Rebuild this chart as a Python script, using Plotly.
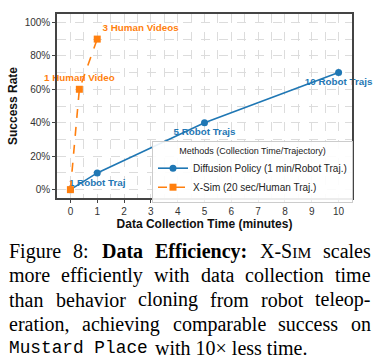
import plotly.graph_objects as go

# ---------------- data ----------------
dp_time = [0, 1, 5, 10]
dp_success = [0, 10, 40, 70]
dp_labels = ["", "1 Robot Traj", "5 Robot Trajs", "10 Robot Trajs"]

xs_time = [0, 1 / 3, 1]
xs_success = [0, 60, 90]
xs_labels = ["", "1 Human Video", "3 Human Videos"]

x_tick_vals = list(range(0, 11))
x_tick_text = [str(v) for v in x_tick_vals]
y_tick_vals = [0, 20, 40, 60, 80, 100]
y_tick_text = ["0%", "20%", "40%", "60%", "80%", "100%"]

dp_name = "Diffusion Policy (1 min/Robot Traj.)"
xs_name = "X-Sim (20 sec/Human Traj.)"
legend_title = "Methods (Collection Time/Trajectory)"
x_title = "Data Collection Time (minutes)"
y_title = "Success Rate"

caption_lines = [
    [("Figure", "r"), ("8:", "r"), ("Data", "b"), ("Efficiency:", "b"), ("X-SIM", "sc"), ("scales", "r")],
    [(w, "r") for w in "more efficiently with data collection time".split()],
    [(w, "r") for w in "than behavior cloning from robot teleop-".split()],
    [(w, "r") for w in "eration, achieving comparable success on".split()],
]
caption_last_mono = "Mustard Place"
caption_last_rest = "with 10× less time."

# ---------------- geometry ----------------
W, H = 380, 359
L, R, T, B = 57, 28, 14, 161
PW, PH = W - L - R, H - T - B


def pxx(x):
    return (x - L) / PW


def pxy(y):
    return (T + PH - y) / PH


BLUE = "#1f77b4"
ORANGE = "#ff7f0e"

fig = go.Figure()
fig.add_trace(go.Scatter(
    x=dp_time, y=dp_success, name=dp_name, mode="lines+markers+text",
    text=dp_labels, textposition="bottom center", cliponaxis=False,
    textfont=dict(family="Liberation Sans", size=9.8, color=BLUE, weight="bold"),
    line=dict(color=BLUE, width=1.6),
    marker=dict(symbol="circle", size=7, color=BLUE),
))
fig.add_trace(go.Scatter(
    x=xs_time, y=xs_success, name=xs_name, mode="lines+markers+text",
    text=xs_labels, textposition=["top center", "top center", "top right"], cliponaxis=False,
    textfont=dict(family="Liberation Sans", size=9.8, color=ORANGE, weight="bold"),
    line=dict(color=ORANGE, width=1.6, dash="dash"),
    marker=dict(symbol="square", size=7, color=ORANGE),
))

grid = dict(gridcolor="#dcdcdc", griddash="dash", gridwidth=0.8)
fig.update_xaxes(
    range=[-0.5, 10.5], tickmode="array", tickvals=x_tick_vals, ticktext=x_tick_text,
    ticks="outside", ticklen=3, tickcolor="#444", showline=True, linecolor="#444",
    linewidth=1.5, mirror=True, zeroline=False, showgrid=True, **grid,
    minor=dict(dtick=0.5, showgrid=True, **grid),
    tickfont=dict(family="Liberation Sans", size=10, color="#333"),
    title=dict(text="<b>" + x_title + "</b>", standoff=1,
               font=dict(family="Liberation Sans", size=12, color="#111")),
)
fig.update_yaxes(
    range=[-5, 105], tickmode="array", tickvals=y_tick_vals, ticktext=y_tick_text,
    ticks="outside", ticklen=3, tickcolor="#444", showline=True, linecolor="#444",
    linewidth=1.5, mirror=True, zeroline=False, showgrid=True, **grid,
    minor=dict(dtick=10, showgrid=True, **grid),
    tickfont=dict(family="Liberation Sans", size=10, color="#333"),
    title=dict(text="<b>" + y_title + "</b>", standoff=4,
               font=dict(family="Liberation Sans", size=12, color="#111")),
)

# ---------------- caption (justified, word by word) ----------------
TIMES = {
    ' ': 250, ',': 250, '-': 333, '.': 250, ':': 278, '×': 564,
    'A': 722, 'B': 667, 'C': 667, 'D': 722, 'E': 611, 'F': 556, 'G': 722, 'H': 722, 'I': 333,
    'J': 389, 'K': 722, 'L': 611, 'M': 889, 'N': 722, 'O': 722, 'P': 556, 'Q': 722, 'R': 667,
    'S': 556, 'T': 611, 'U': 722, 'V': 722, 'W': 944, 'X': 722, 'Y': 722, 'Z': 611,
    'a': 444, 'b': 500, 'c': 444, 'd': 500, 'e': 444, 'f': 333, 'g': 500, 'h': 500, 'i': 278,
    'j': 278, 'k': 500, 'l': 278, 'm': 778, 'n': 500, 'o': 500, 'p': 500, 'q': 500, 'r': 333,
    's': 389, 't': 278, 'u': 500, 'v': 500, 'w': 722, 'x': 500, 'y': 500, 'z': 444,
}
TIMES_B = dict(TIMES)
TIMES_B.update({':': 333, 'E': 667, 'a': 500, 't': 333, 'n': 556, 'D': 722})

FS = 20.0
SC = 15.5


def word_width(word, style):
    if style == "b":
        return sum(TIMES_B.get(c, 500) for c in word) * FS / 1000
    if style == "sc":
        return (sum(TIMES.get(c, 500) for c in word[:3]) * FS
                + sum(TIMES.get(c, 500) for c in word[3:]) * SC) / 1000
    return sum(TIMES.get(c, 500) for c in word) * FS / 1000


def word_html(word, style):
    if style == "b":
        return "<b>" + word + "</b>"
    if style == "sc":
        return word[:3] + "<span style='font-size:%gpx'>%s</span>" % (SC, word[3:])
    return word


serif = dict(family="Liberation Serif", size=FS, color="#000")
LEFT, RIGHT = 9, 371
centers = [251, 275, 299.5, 324, 348]
annotations = []
for li, words in enumerate(caption_lines):
    widths = [word_width(w, s) for w, s in words]
    gap = (RIGHT - LEFT - sum(widths)) / (len(words) - 1)
    x = LEFT
    for (w, s), wd in zip(words, widths):
        annotations.append(dict(
            x=pxx(x + wd / 2), y=pxy(centers[li]), xref="paper", yref="paper",
            text=word_html(w, s), showarrow=False, xanchor="center", yanchor="middle",
            font=serif, borderpad=0, borderwidth=0,
        ))
        x += wd + gap
annotations.append(dict(
    x=pxx(LEFT), y=pxy(centers[4]), xref="paper", yref="paper",
    text=caption_last_mono, showarrow=False, xanchor="left", yanchor="middle",
    font=dict(family="Liberation Mono", size=17.8, color="#000"), borderpad=0, borderwidth=0,
))
annotations.append(dict(
    x=pxx(155), y=pxy(centers[4]), xref="paper", yref="paper",
    text=caption_last_rest, showarrow=False, xanchor="left", yanchor="middle",
    font=serif, borderpad=0, borderwidth=0,
))

fig.update_layout(
    width=W, height=H, autosize=False,
    margin=dict(l=L, r=R, t=T, b=B),
    paper_bgcolor="white", plot_bgcolor="white",
    font=dict(family="Liberation Sans", color="#333"),
    showlegend=True,
    legend=dict(
        x=pxx(152), y=pxy(141), xanchor="left", yanchor="top",
        bgcolor="rgba(255,255,255,0.9)", bordercolor="#cccccc", borderwidth=1,
        font=dict(family="Liberation Sans", size=10, color="#222"),
        title=dict(text=legend_title, side="top center",
                   font=dict(family="Liberation Sans", size=9, color="#222")),
        itemwidth=30, tracegroupgap=0,
    ),
    annotations=annotations,
)

fig.write_html("out.html", config={"displayModeBar": False},
               post_script="document.body.style.margin='0px';")
